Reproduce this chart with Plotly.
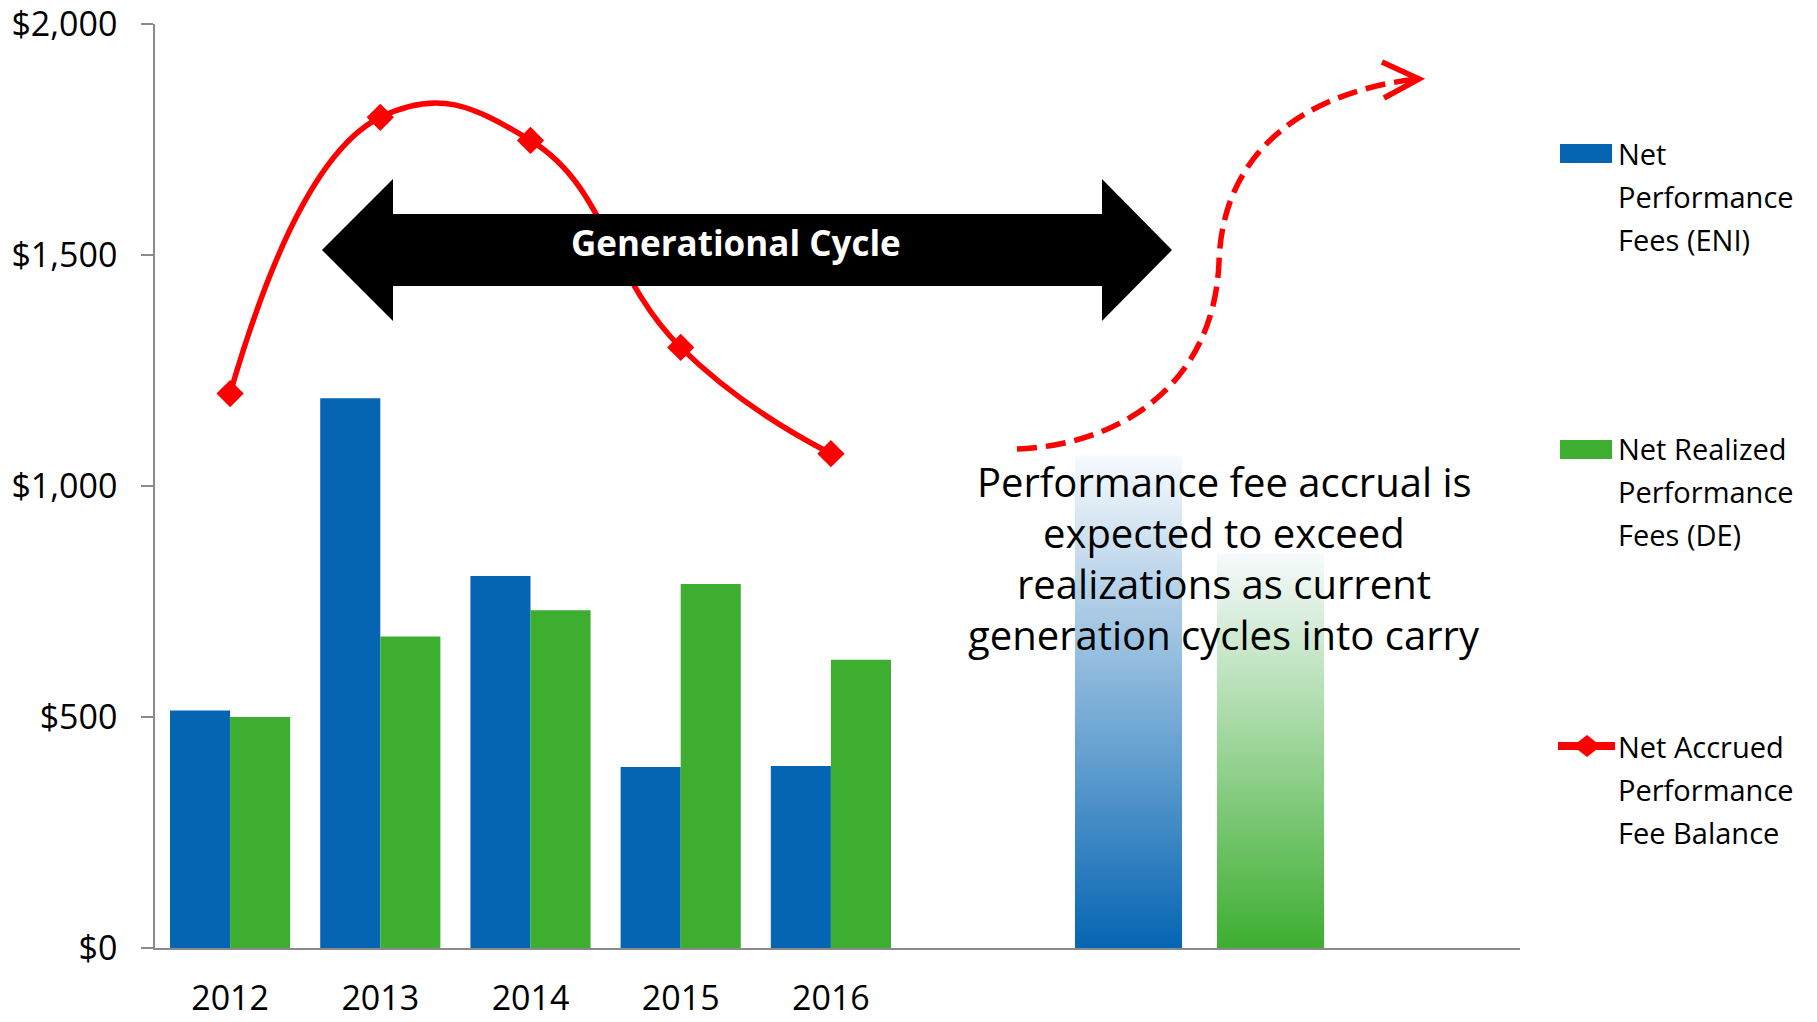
import plotly.graph_objects as go

# ---------------- data ----------------
years = ["2012", "2013", "2014", "2015", "2016"]
eni_fees = [514, 1190, 805, 392, 394]          # Net Performance Fees (ENI)
de_fees = [500, 674, 731, 788, 624]            # Net Realized Performance Fees (DE)
accrued_balance = [1200, 1798, 1748, 1300, 1070]  # Net Accrued Performance Fee Balance
proj_eni = 1066                                 # projected (faded) ENI bar
proj_de = 854                                   # projected (faded) DE bar
y_ticks = [0, 500, 1000, 1500, 2000]
y_ticktext = ["$" + format(v, ",") for v in y_ticks]

legend_eni = ["Net", "Performance", "Fees (ENI)"]
legend_de = ["Net Realized", "Performance", "Fees (DE)"]
legend_acc = ["Net Accrued", "Performance", "Fee Balance"]
cycle_label = "Generational Cycle"
note_lines = ["Performance fee accrual is", "expected to exceed",
              "realizations as current", "generation cycles into carry"]

# ---------------- styles ----------------
W, H = 1817, 1022
L, R, T, B = 155, 1520, 24, 948          # plot area in pixels
BLUE = "#0565B2"
GREEN = "#3DAE30"
RED = "#FF0000"
AXIS = "#8A8A8A"
FONT = "Open Sans"
split = (906 - L) / (R - L)


def px(X, Y):
    return (X - L) / (R - L), (B - Y) / (B - T)


fig = go.Figure()
fig.add_bar(x=years, y=eni_fees, name="Net Performance Fees (ENI)",
            marker=dict(color=BLUE, line=dict(width=0)))
fig.add_bar(x=years, y=de_fees, name="Net Realized Performance Fees (DE)",
            marker=dict(color=GREEN, line=dict(width=0)))

# projected gradient bars on secondary x axis
proj_pos = [0, 1]
half = 0.377
for pos, val, col in [(proj_pos[0], proj_eni, BLUE), (proj_pos[1], proj_de, GREEN)]:
    fig.add_scatter(x=[pos - half, pos + half, pos + half, pos - half, pos - half],
                    y=[0, 0, val, val, 0], xaxis="x2", yaxis="y",
                    mode="lines", line=dict(width=0), fill="toself",
                    fillgradient=dict(type="vertical",
                                      colorscale=[[0, col], [1, "#F7FAFD"]]),
                    hoverinfo="skip", showlegend=False)

fig.add_scatter(x=years, y=accrued_balance, name="Net Accrued Performance Fee Balance",
                mode="lines+markers",
                line=dict(color=RED, width=5.5, shape="spline", smoothing=1.3),
                marker=dict(symbol="diamond", size=21, color=RED))

shapes = []
# black double arrow
pts = [(322, 250), (393, 179), (393, 214), (1102, 214), (1102, 179), (1172, 250),
       (1102, 321), (1102, 286), (393, 286), (393, 321)]
path = "M " + " L ".join("%.5f,%.5f" % px(x, y) for x, y in pts) + " Z"
shapes.append(dict(type="path", xref="paper", yref="paper", path=path,
                   fillcolor="black", line=dict(width=0), layer="above"))

# dashed red curved arrow
c = [(1017, 449), (1120, 445), (1214, 385), (1219, 262), (1223, 140), (1320, 90), (1417, 79)]
cp = [px(*p) for p in c]
dpath = "M %.5f,%.5f C %.5f,%.5f %.5f,%.5f %.5f,%.5f C %.5f,%.5f %.5f,%.5f %.5f,%.5f" % (
    cp[0] + cp[1] + cp[2] + cp[3] + cp[4] + cp[5] + cp[6])
shapes.append(dict(type="path", xref="paper", yref="paper", path=dpath,
                   line=dict(color=RED, width=5.5, dash="20px,9px"), layer="above"))
hp = [px(1382, 62), px(1419, 79), px(1384, 98)]
hpath = "M %.5f,%.5f L %.5f,%.5f L %.5f,%.5f" % (hp[0] + hp[1] + hp[2])
shapes.append(dict(type="path", xref="paper", yref="paper", path=hpath,
                   line=dict(color=RED, width=5.5), layer="above"))

# legend patches
for y0, y1, col in [(144, 163, BLUE), (440, 459, GREEN)]:
    x0p, y0p = px(1560, y1)
    x1p, y1p = px(1612, y0)
    shapes.append(dict(type="rect", xref="paper", yref="paper", x0=x0p, x1=x1p,
                       y0=y0p, y1=y1p, fillcolor=col, line=dict(width=0)))
a, b = px(1558, 746), px(1615, 746)
shapes.append(dict(type="line", xref="paper", yref="paper", x0=a[0], x1=b[0], y0=a[1], y1=b[1],
                   line=dict(color=RED, width=8)))
dm = [px(1573, 746), px(1587, 735), px(1601, 746), px(1587, 757)]
shapes.append(dict(type="path", xref="paper", yref="paper",
                   path="M " + " L ".join("%.5f,%.5f" % p for p in dm) + " Z",
                   fillcolor=RED, line=dict(width=0)))

annotations = []
cx, cy = px(736, 242.5)
annotations.append(dict(xref="paper", yref="paper", x=cx, y=cy, text="<b>%s</b>" % cycle_label,
                        showarrow=False, font=dict(family=FONT, size=35, color="white"),
                        xanchor="center", yanchor="middle"))
for i, line in enumerate(note_lines):
    nx, ny = px(1224, 481 + 51.3 * i)
    annotations.append(dict(xref="paper", yref="paper", x=nx, y=ny, text=line, showarrow=False,
                            font=dict(family=FONT, size=40, color="black"),
                            xanchor="center", yanchor="middle"))
for base, lines in [(154, legend_eni), (448, legend_de), (746, legend_acc)]:
    for i, line in enumerate(lines):
        lx, ly = px(1616, base + 43 * i)
        annotations.append(dict(xref="paper", yref="paper", x=lx, y=ly, text=line,
                                showarrow=False, font=dict(family=FONT, size=29, color="black"),
                                xanchor="left", yanchor="middle"))

fig.update_layout(
    width=W, height=H,
    margin=dict(l=L, r=W - R, t=T, b=H - B, pad=0, autoexpand=False),
    paper_bgcolor="white", plot_bgcolor="white",
    barmode="group", bargap=0.2, bargroupgap=0,
    showlegend=False,
    font=dict(family=FONT, color="black"),
    xaxis=dict(domain=[0, split], type="category", range=[-0.5, 4.5], showline=True,
               linecolor=AXIS, linewidth=1.5, ticks="", showgrid=False, automargin=False,
               tickfont=dict(family=FONT, size=34, color="black"), ticklabelstandoff=19),
    xaxis2=dict(domain=[split, 1], anchor="y", range=[-1.567, 2.757], showline=True,
                linecolor=AXIS, linewidth=1.5, showticklabels=False, showgrid=False,
                zeroline=False, ticks="", automargin=False),
    yaxis=dict(range=[0, 2000], tickmode="array", tickvals=y_ticks, ticktext=y_ticktext,
               showline=True, linecolor=AXIS, linewidth=1.5, ticks="outside", ticklen=12,
               tickcolor=AXIS, tickwidth=1.5, showgrid=False, zeroline=False,
               automargin=False, ticklabeloverflow="allow",
               tickfont=dict(family=FONT, size=34, color="black"), ticklabelstandoff=17),
    shapes=shapes, annotations=annotations,
)

fig.write_html("out.html", config={"displayModeBar": False},
               post_script="document.body.style.margin='0';document.body.style.padding='0';"
                           "document.documentElement.style.overflow='hidden';")
